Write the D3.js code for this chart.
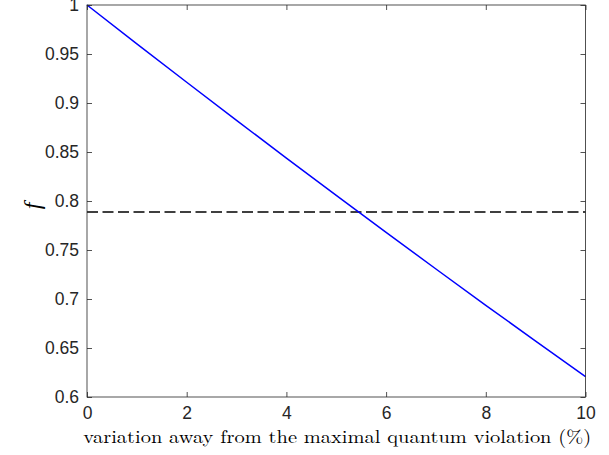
<!DOCTYPE html>
<html>
<head>
<meta charset="utf-8">
<script src="https://cdn.jsdelivr.net/npm/d3@7"></script>
<style>
  body { margin: 0; background: #fff; }
  text { fill: #262626; }
</style>
</head>
<body>
<div id="chart"></div>
<script>
// values
let variation = [0, 1, 2, 3, 4, 5, 6, 7, 8, 9, 10];
let fValues = [1, 0.9604, 0.9212, 0.8823, 0.8438, 0.8057, 0.7680, 0.7306, 0.6936, 0.6570, 0.6207];
let threshold = 0.7887;
let xTicks = [0, 2, 4, 6, 8, 10];
let yTicks = [0.6, 0.65, 0.7, 0.75, 0.8, 0.85, 0.9, 0.95, 1];

let W = 609, H = 455;
let margin = { top: 5, right: 23.5, bottom: 58, left: 87 };
let w = W - margin.left - margin.right,
    h = H - margin.top - margin.bottom;

let svg = d3.select("#chart").append("svg")
    .attr("width", W)
    .attr("height", H);

let g = svg.append("g")
    .attr("transform", "translate(" + margin.left + "," + margin.top + ")");

let x = d3.scaleLinear().domain([0, 10]).range([0, w]);
let y = d3.scaleLinear().domain([0.6, 1]).range([h, 0]);

//Lines
let line = d3.line()
    .x(function (d, i) { return x(variation[i]); })
    .y(function (d) { return y(d); });

g.append("line")
    .attr("x1", x(0)).attr("x2", x(10))
    .attr("y1", y(threshold)).attr("y2", y(threshold))
    .style("stroke", "#000")
    .style("stroke-width", 1.5)
    .style("stroke-dasharray", "11,4.5");

g.append("path")
    .datum(fValues)
    .attr("d", line)
    .style("fill", "none")
    .style("stroke", "#0000ff")
    .style("stroke-width", 1.5);

//Axes, MATLAB style: box with inward ticks on all sides
let tickLen = 5;
let axisStyle = function (sel) {
    sel.select(".domain").remove();
    sel.selectAll(".tick line").style("stroke", "#262626").style("stroke-width", 0.8);
    sel.selectAll("text")
        .style("font-family", "'Liberation Sans', Arial, sans-serif")
        .style("font-size", "17.5px")
        .style("fill", "#262626");
};

g.append("g")
    .attr("transform", "translate(0," + h + ")")
    .call(d3.axisBottom(x).tickValues(xTicks).tickSize(-tickLen).tickPadding(10).tickFormat(d3.format("d")))
    .call(axisStyle);

g.append("g")
    .call(d3.axisTop(x).tickValues(xTicks).tickSize(-tickLen).tickFormat(""))
    .call(axisStyle);

g.append("g")
    .call(d3.axisLeft(y).tickValues(yTicks).tickSize(-tickLen).tickPadding(8).tickFormat(function (d) { return d3.format("")(+d.toFixed(2)); }))
    .call(axisStyle);

g.append("g")
    .attr("transform", "translate(" + w + ",0)")
    .call(d3.axisRight(y).tickValues(yTicks).tickSize(-tickLen).tickFormat(""))
    .call(axisStyle);

g.append("rect")
    .attr("width", w)
    .attr("height", h)
    .style("fill", "none")
    .style("stroke", "#262626")
    .style("stroke-width", 0.8);

//Labels
svg.append("text")
    .attr("x", margin.left + w / 2 + 1)
    .attr("y", 443)
    .attr("text-anchor", "middle")
    .attr("textLength", 508)
    .attr("lengthAdjust", "spacingAndGlyphs")
    .style("font-family", "'Latin Modern Roman', 'DejaVu Serif', 'Liberation Serif', serif")
    .style("font-size", "18px")
    .style("fill", "#000")
    .text("variation away from the maximal quantum violation (%)");

svg.append("text")
    .attr("transform", "translate(40," + (margin.top + y(0.795)) + ") rotate(-90)")
    .attr("text-anchor", "middle")
    .style("font-family", "'Liberation Serif', 'DejaVu Serif', serif")
    .style("font-style", "italic")
    .style("font-size", "24px")
    .style("fill", "#000")
    .text("f");
</script>
</body>
</html>
